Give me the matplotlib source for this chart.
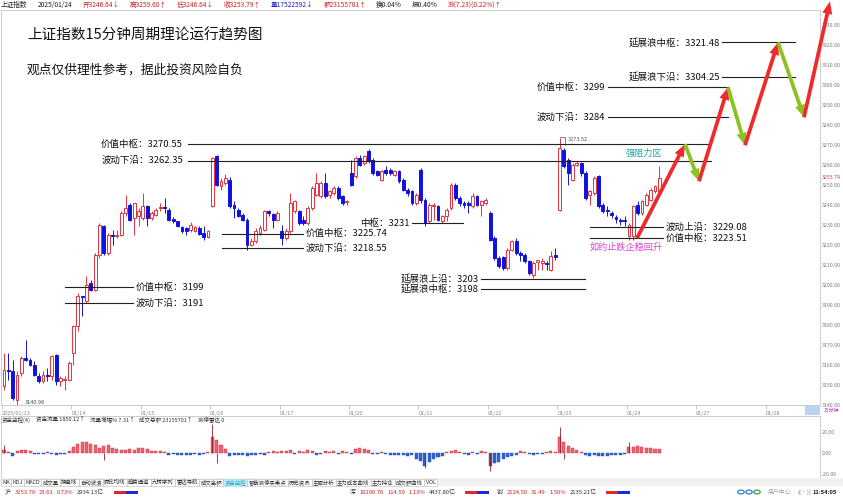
import matplotlib
matplotlib.use('Agg')
import matplotlib.pyplot as plt
from matplotlib.patches import Rectangle, FancyArrowPatch, Circle
import numpy as np

plt.rcParams['font.family'] = ['Noto Sans CJK SC', 'DejaVu Sans']
plt.rcParams['axes.unicode_minus'] = False

W, H = 843, 500

# ---- data -------------------------------------------------------------
day_labels = ['2025/01/13', '01/14', '01/15', '01/16', '01/17', '01/20',
              '01/21', '01/22', '01/23', '01/24', '01/27', '01/28']
bars_per_day = 16

# 15 minute bars, one row per trading day
open_ = [
    3149.4, 3157.7, 3157.0, 3142.7, 3156.0, 3163.5, 3162.7, 3160.2, 3154.7, 3151.9, 3155.2, 3154.4, 3165.2, 3151.9, 3152.5, 3152.7,
    3166.0, 3179.4, 3194.4, 3191.9, 3201.0, 3197.7, 3215.2, 3229.4, 3216.0, 3225.2, 3224.4, 3225.2, 3236.0, 3240.2, 3233.5, 3234.4,
    3233.5, 3239.4, 3233.5, 3235.2, 3238.5, 3239.2, 3237.7, 3233.2, 3231.9, 3228.9, 3228.5, 3227.7, 3226.9, 3228.5, 3226.0, 3223.9,
    3239.4, 3264.4, 3249.4, 3251.0, 3252.7, 3239.9, 3237.7, 3235.2, 3232.7, 3220.2, 3221.9, 3226.0, 3227.7, 3237.2, 3235.5, 3232.7,
    3226.9, 3223.5, 3226.9, 3236.9, 3236.9, 3232.7, 3231.0, 3238.5, 3245.2, 3244.4, 3251.0, 3245.2, 3246.0, 3248.5, 3244.4, 3241.5,
    3256.0, 3254.4, 3263.5, 3261.0, 3266.9, 3262.7, 3256.9, 3252.7, 3257.7, 3257.7, 3255.2, 3256.9, 3252.7, 3247.7, 3246.9, 3241.0,
    3257.7, 3242.7, 3231.9, 3239.4, 3239.4, 3231.9, 3234.4, 3238.5, 3250.2, 3243.5, 3241.0, 3241.0, 3239.4, 3244.4, 3240.2, 3241.0,
    3236.0, 3223.5, 3213.5, 3214.0, 3208.5, 3217.7, 3221.9, 3216.0, 3215.2, 3211.9, 3205.2, 3211.4, 3210.9, 3211.0, 3207.7, 3215.2,
    3237.7, 3267.7, 3262.7, 3252.7, 3260.2, 3261.0, 3256.0, 3245.2, 3246.0, 3254.4, 3240.2, 3237.7, 3236.0, 3234.0, 3232.7, 3232.7,
    3224.4, 3224.4, 3240.2, 3236.0, 3240.2, 3242.7, 3246.9, 3246.64,
]
high = [
    3166.0, 3166.0, 3162.7, 3157.0, 3164.5, 3172.7, 3163.5, 3161.9, 3156.0, 3156.9, 3158.5, 3165.2, 3165.5, 3154.4, 3154.4, 3161.9,
    3180.2, 3196.0, 3194.4, 3204.4, 3202.7, 3216.0, 3231.0, 3230.2, 3226.0, 3227.7, 3227.7, 3237.0, 3245.2, 3241.0, 3241.0, 3238.5,
    3246.0, 3240.2, 3236.9, 3238.5, 3241.0, 3243.5, 3238.5, 3233.9, 3232.2, 3229.4, 3228.9, 3231.5, 3229.5, 3229.4, 3229.7, 3227.7,
    3264.0, 3264.9, 3253.5, 3255.5, 3253.9, 3241.9, 3238.5, 3236.0, 3233.5, 3223.5, 3228.5, 3230.2, 3237.7, 3237.7, 3236.0, 3236.9,
    3230.2, 3228.5, 3246.0, 3242.7, 3237.7, 3234.4, 3239.4, 3249.4, 3256.0, 3252.0, 3256.0, 3247.7, 3249.4, 3249.4, 3245.2, 3242.7,
    3262.7, 3264.4, 3265.2, 3265.2, 3268.0, 3263.5, 3257.7, 3257.7, 3259.4, 3258.5, 3257.7, 3257.7, 3253.5, 3248.5, 3247.7, 3246.0,
    3258.5, 3243.5, 3241.0, 3241.0, 3240.2, 3235.2, 3238.5, 3251.0, 3251.0, 3244.4, 3241.9, 3241.9, 3246.0, 3245.2, 3242.7, 3243.5,
    3237.0, 3224.4, 3214.4, 3214.7, 3218.5, 3222.7, 3223.5, 3216.9, 3216.0, 3212.7, 3211.9, 3212.7, 3213.5, 3211.9, 3216.9, 3218.5,
    3273.52, 3268.5, 3263.5, 3261.0, 3261.9, 3261.4, 3256.9, 3247.7, 3254.4, 3255.2, 3241.0, 3239.4, 3236.9, 3235.2, 3233.5, 3234.4,
    3231.0, 3240.2, 3241.9, 3242.7, 3246.0, 3248.5, 3250.2, 3259.68,
]
low = [
    3147.7, 3152.7, 3142.7, 3140.98, 3154.4, 3162.0, 3159.4, 3154.4, 3151.0, 3151.0, 3151.9, 3152.7, 3150.0, 3149.4, 3147.7, 3151.9,
    3160.2, 3176.9, 3184.4, 3191.0, 3196.9, 3196.9, 3213.5, 3215.2, 3215.2, 3220.2, 3223.5, 3224.4, 3234.4, 3231.9, 3225.2, 3229.4,
    3232.7, 3229.4, 3232.7, 3234.4, 3236.9, 3236.0, 3232.2, 3231.0, 3228.9, 3226.0, 3224.9, 3226.5, 3226.5, 3224.9, 3222.7, 3223.5,
    3239.0, 3249.4, 3247.7, 3250.2, 3238.5, 3233.5, 3233.9, 3231.9, 3217.7, 3219.4, 3221.0, 3225.2, 3226.9, 3234.4, 3228.5, 3232.2,
    3220.2, 3222.7, 3226.0, 3236.0, 3230.2, 3230.2, 3230.2, 3237.7, 3244.4, 3243.5, 3243.5, 3243.5, 3245.2, 3242.7, 3240.2, 3240.2,
    3249.4, 3253.5, 3259.4, 3260.2, 3261.0, 3255.2, 3254.4, 3251.9, 3255.2, 3255.2, 3254.4, 3251.0, 3246.9, 3244.4, 3240.2, 3240.2,
    3241.0, 3229.4, 3231.0, 3232.7, 3231.9, 3231.0, 3231.9, 3237.7, 3242.7, 3239.4, 3238.5, 3236.0, 3238.5, 3239.4, 3234.4, 3240.2,
    3221.9, 3212.7, 3208.5, 3207.7, 3207.7, 3216.9, 3215.2, 3211.9, 3211.0, 3205.2, 3203.5, 3207.7, 3207.7, 3207.7, 3206.9, 3212.7,
    3237.2, 3258.5, 3250.2, 3251.9, 3259.4, 3254.4, 3242.7, 3240.2, 3245.2, 3238.5, 3236.0, 3234.4, 3233.5, 3231.0, 3230.2, 3229.4,
    3222.7, 3222.7, 3235.2, 3235.2, 3239.4, 3241.9, 3246.0, 3246.64,
]
close = [
    3157.7, 3157.0, 3143.5, 3155.2, 3163.5, 3162.7, 3160.2, 3155.2, 3151.9, 3155.2, 3154.5, 3164.4, 3151.9, 3153.5, 3153.0, 3161.0,
    3179.4, 3194.4, 3193.9, 3200.2, 3197.7, 3215.2, 3230.2, 3216.0, 3225.2, 3224.4, 3225.0, 3236.0, 3238.5, 3232.7, 3241.0, 3236.9,
    3239.4, 3233.5, 3236.0, 3237.7, 3239.2, 3238.5, 3232.7, 3231.9, 3229.4, 3227.2, 3226.9, 3229.9, 3229.0, 3225.5, 3224.2, 3227.2,
    3263.5, 3250.2, 3251.9, 3253.5, 3239.4, 3238.5, 3234.4, 3232.7, 3220.2, 3222.2, 3226.9, 3228.5, 3237.2, 3236.0, 3232.7, 3236.0,
    3223.5, 3226.9, 3241.0, 3241.9, 3231.0, 3231.0, 3238.5, 3248.5, 3251.0, 3251.0, 3244.4, 3246.9, 3248.5, 3243.5, 3241.0, 3242.0,
    3250.2, 3263.5, 3260.2, 3264.4, 3261.9, 3256.0, 3255.2, 3256.9, 3256.0, 3256.0, 3256.9, 3251.9, 3247.7, 3246.0, 3241.0, 3245.2,
    3242.7, 3231.0, 3240.2, 3240.2, 3232.7, 3234.4, 3237.7, 3250.2, 3243.5, 3241.0, 3240.2, 3240.2, 3244.4, 3240.2, 3241.9, 3242.7,
    3222.7, 3213.5, 3209.4, 3208.5, 3217.7, 3221.9, 3216.0, 3215.2, 3211.9, 3206.0, 3211.0, 3212.4, 3211.9, 3210.5, 3214.7, 3214.0,
    3268.5, 3259.4, 3256.0, 3260.2, 3261.0, 3256.0, 3243.5, 3246.9, 3253.5, 3239.4, 3236.9, 3236.9, 3235.2, 3233.0, 3232.2, 3231.9,
    3230.2, 3239.4, 3236.0, 3241.9, 3245.2, 3247.7, 3249.4, 3253.79,
]

# 资金流量 bars of the lower panel
flow = [
    3, 1, -3, 2, 3, 3, 2, -1, -1, -1, 1, -1, -2, -1, -1, 2,
    6, 9, 10, 10, 9, 8, 5, 7, 8, 5, 4, 3, 3, 4, 3, 5,
    5, 4, 2, 2, 2, 1, -2, -1, -2, -2, -2, -2, -1, -2, -1, 1,
    15, 12, 8, 4, -3, -2, -2, -2, -3, -2, -2, -1, -2, 1, 2, 1,
    2, 2, 3, -1, 2, 1, 3, 2, -2, -1, 2, 1, 2, -1, 2, 1,
    -1, 4, 5, 4, 3, -1, -1, 1, -1, -2, -2, -2, -2, -3, -2, -6,
    -8, -12, -9, -6, -4, -3, 1, 2, 3, 1, -1, -2, 1, -1, 2, 1,
    -12, -10, -9, -6, -4, -3, -2, 2, 1, -1, -2, -1, -1, 1, 2, 1,
    15, 10, 7, 5, 3, 1, -2, -3, -2, -3, -3, -3, -2, -2, -2, -1,
    6, 6, 7, 6, 5, 5, 4, 4,
]
spike_idx = [0, 23, 48, 49, 97, 112, 128, 129, 144]
spike_val = [8, -7, 28, -10, -14, -17, 25, -6, 10]

# support / resistance levels written on the chart
level_names = ['价值中枢', '波动下沿', '价值中枢', '波动下沿', '延展浪中枢', '延展浪下沿',
               '价值中枢', '波动下沿', '价值中枢', '波动下沿', '中枢', '延展浪上沿',
               '延展浪中枢', '波动上沿', '价值中枢']
level_values = [3270.55, 3262.35, 3299, 3284, 3321.48, 3304.25,
                3199, 3191, 3225.74, 3218.55, 3231, 3203,
                3198, 3229.08, 3223.51]

# projected wave path (price turning points)
wave_prices = [3223.51, 3270.55, 3252, 3299, 3270, 3321.48, 3284, 3342]

last_close = 3253.79

RED = '#E8313C'
BLUE = '#1212E0'


def px2i(px):
    return (px - 4.0) / 4.34


def ftxt(px, py, s, **kw):
    kw.setdefault('fontsize', 4.0)
    kw.setdefault('va', 'center')
    return fig.text(px / W, 1 - py / H, s, **kw)


def frect(px, py, w, h, **kw):
    fig.patches.append(Rectangle((px / W, 1 - (py + h) / H), w / W, h / H,
                                 transform=fig.transFigure, **kw))


def text_row(px, py, items, gap, size=4.0):
    # write texts one after another, each starting where the last one ended
    for s, cc in items:
        t = ftxt(px, py, s, color=cc, fontsize=size)
        px = t.get_window_extent(renderer).x1 + gap
    return px


fig = plt.figure(figsize=(W / 100, H / 100), dpi=100, facecolor='white')
renderer = fig.canvas.get_renderer()
ax = fig.add_axes([1 / W, 1 - 405 / H, 819 / W, 395 / H])
ax2 = fig.add_axes([1 / W, 1 - 478 / H, 819 / W, 62 / H])

o = np.array(open_)
c = np.array(close)
h = np.array(high)
l = np.array(low)
x = np.arange(len(c))
up = c >= o
col = np.where(up, RED, BLUE)

# ---- candles ----------------------------------------------------------
ax.vlines(x, l, h, colors=col, lw=0.7, zorder=2)
ax.bar(x, np.maximum(np.abs(c - o), 0.35), bottom=np.minimum(o, c), width=0.66,
       color=np.where(up, 'white', BLUE), edgecolor=col, linewidth=0.7, zorder=3)

xmin, xmax = px2i(1), px2i(820)
ax.set_xlim(xmin, xmax)
ax.set_ylim(3140.2, 3337.7)

ax.yaxis.tick_right()
yt = np.arange(3140, 3331, 10)
ax.set_yticks(yt)
ax.set_yticklabels([f'{v:.2f}' for v in yt], fontsize=3.8, color='#7a7a7a')
ax.tick_params(axis='y', length=0, pad=1.5)
ax.set_xticks([bars_per_day * d - 0.5 for d in range(len(day_labels))])
ax.set_xticklabels(day_labels, fontsize=4.0, color='#8a8a8a', ha='left')
ax.tick_params(axis='x', length=3, width=0.5, color='#b0b0b0', pad=1.2, direction='out')
for s in ax.spines.values():
    s.set_color('#c4c4c4')
    s.set_linewidth(0.6)

# last price tag on the axis
ax.text(1.002, last_close, f'{last_close:.2f}', transform=ax.get_yaxis_transform(),
        fontsize=3.8, color='#e03030', va='center', ha='left')

# ---- level lines and labels ------------------------------------------
# (line start px, line end px, text px, text alignment)
level_layout = [
    (188, 710, 183, 'right'), (188, 711, 183, 'right'),
    (608, 728, 605, 'right'), (608, 728, 605, 'right'),
    (722, 795, 720, 'right'), (722, 795, 720, 'right'),
    (65, 133, 136, 'left'), (65, 133, 136, 'left'),
    (222, 303, 306, 'left'), (222, 303, 306, 'left'),
    (412, 463, 410, 'right'), (481, 585, 479, 'right'),
    (481, 585, 479, 'right'), (590, 663, 666, 'left'), (590, 663, 666, 'left'),
]
for name, val, (x0, x1, tx, ha) in zip(level_names, level_values, level_layout):
    ax.plot([px2i(x0), px2i(x1)], [val, val], color='#202020', lw=0.8, zorder=4)
    ax.text(px2i(tx), val, f'{name}：{val:g}', fontsize=6.8, color='#101010',
            ha=ha, va='center', zorder=5)

ax.text(px2i(626), 3265.9, '强阻力区', fontsize=6.6, color='#1fa3a8', va='center', ha='left')
ax.text(px2i(590), 3218.9, '如约止跌企稳回升', fontsize=6.6, color='#e040d8', va='center', ha='left')

# extreme price tags
i_lo = int(np.argmin(l))
ax.plot([i_lo, i_lo, i_lo + 1.6], [l[i_lo], l[i_lo] - 0.8, l[i_lo] - 0.8], color='#505050', lw=0.5)
ax.text(i_lo + 1.9, l[i_lo] + 0.3, f'{l[i_lo]:.2f}', fontsize=4.0, color='#505050', va='center')
i_hi = 128
ax.plot([i_hi, i_hi + 1.2, i_hi + 1.2], [h[i_hi] + 0.6, h[i_hi] + 0.6, h[i_hi] - 3.5],
        color='#505050', lw=0.5)
ax.text(i_hi + 1.8, h[i_hi] - 0.6, f'{h[i_hi]:.2f}', fontsize=4.0, color='#505050', va='center')

# projected zigzag
wave_px = [637, 685, 699, 728, 745, 778, 804, 830]
for k in range(len(wave_prices) - 1):
    rising = wave_prices[k + 1] > wave_prices[k]
    arr = FancyArrowPatch((px2i(wave_px[k]), wave_prices[k]),
                          (px2i(wave_px[k + 1]), wave_prices[k + 1]),
                          arrowstyle='simple,head_length=1.0,head_width=0.8,tail_width=0.3',
                          mutation_scale=9, color='#ee2a2a' if rising else '#8cc220',
                          lw=0, shrinkA=0, shrinkB=0, clip_on=False, zorder=6)
    ax.add_patch(arr)

# titles
ax.text(px2i(27), 3325.0, '上证指数15分钟周期理论运行趋势图', fontsize=10.5, color='#111111', va='center')
ax.text(px2i(27), 3307.5, '观点仅供理性参考，据此投资风险自负', fontsize=9.2, color='#111111', va='center')

# ---- lower panel ------------------------------------------------------
fl = np.array(flow)
ax2.bar(x, fl, width=0.7, color=np.where(fl >= 0, '#f06070', '#2f63d0'),
        edgecolor=np.where(fl >= 0, '#c83040', '#1f4fb8'), linewidth=0.3)
ax2.vlines(spike_idx, 0, spike_val, colors='#9a1c28', lw=0.6)
ax2.set_xlim(xmin, xmax)
ax2.set_ylim(-23.8, 35.2)
ax2.yaxis.tick_right()
ax2.set_yticks([20, 0, -20])
ax2.set_yticklabels(['20.00', '0.00', '-20.00'], fontsize=3.8, color='#7a7a7a')
ax2.tick_params(axis='y', length=0, pad=1.5)
ax2.set_xticks([])
for s in ax2.spines.values():
    s.set_color('#c4c4c4')
    s.set_linewidth(0.6)

# ---- chrome: header, strips, status bar --------------------------------
header = [('上证指数', '#202020'), ('2025/01/24', '#202020'), ('开3246.64↓', '#d02020'),
          ('高3259.68↑', '#d02020'), ('低3246.64↓', '#d02020'), ('收3253.79↑', '#d02020'),
          ('量17522592↓', '#2020c0'), ('额23155701↑', '#d02020'), ('换0.04%', '#202020'),
          ('振0.40%', '#202020'), ('涨(7.23)(0.22%)↑', '#d02020')]
text_row(1, 4.5, header, 10, size=4.8)

frect(805, 406, 15, 9, facecolor='#b8d4f0', edgecolor='none')
ftxt(831.5, 410, '15分钟', color='#b030b0', ha='center', fontsize=3.6)
text_row(2, 419.5, [('资金监控(4)', '#303030'), ('资金流量 1850.12↑', '#303030'),
                    ('流量增幅% 7.31↑', '#303030'), ('成交总额 23155701↑', '#303030'),
                    ('涨停雷达 0', '#303030')], 5, size=4.0)

tabs = ['MA', 'KDJ', 'MACD', '成交量', '操盘线', '自动波浪', '顾比均线', '趋势通道', '九转序列',
        '雷达导航', '成交金额', '资金监控', '智能涨停买卖点', '历史资讯', '主题分析', '主力成本曲线',
        '主力持仓', '成交额曲线', 'VOL']
frect(0, 478, 843, 8, facecolor='#f2f2f2', edgecolor='none')
tx = 1.0
for tname in tabs:
    on = tname == '资金监控'
    t = ftxt(tx + 1.2, 482.2, tname, color='#30a0c0' if on else '#303030', fontsize=3.9, zorder=3)
    tw = t.get_window_extent(renderer).width + 2.6
    frect(tx, 478.5, tw, 7, facecolor='#bfeef5' if on else 'white',
          edgecolor='#9ccfd8' if on else '#b8b8b8', linewidth=0.4, zorder=1)
    tx += tw

for sx, blk in ((5, [('沪', '#303030'), ('3253.79', '#d02020'), ('23.63', '#d02020'),
                     ('0.73%', '#d02020'), ('2934.13亿', '#303030')]),
                (350, [('深', '#303030'), ('10290.76', '#d02020'), ('114.59', '#d02020'),
                       ('1.13%', '#d02020'), ('4437.80亿', '#303030')]),
                (497, [('创', '#303030'), ('2124.50', '#d02020'), ('31.49', '#d02020'),
                       ('1.50%', '#d02020'), ('2135.21亿', '#303030')])):
    end = text_row(sx, 492, blk, 3.5, size=4.2)
    frect(end + 6, 490.5, 12, 3, facecolor='#e02828', edgecolor='none')
    frect(end + 18, 490.5, 12, 3, facecolor='#1c2ad8', edgecolor='none')
for cx, cc in ((741, '#2a7fd4'), (749, '#2a7fd4'), (757, '#2aa84a')):
    fig.patches.append(Circle((cx / W, 1 - 492 / H), 3.2 / W, transform=fig.transFigure,
                              facecolor='white', edgecolor=cc, linewidth=0.9))
ftxt(768, 492, '用户中心', color='#a0a0a0', fontsize=4.2)
ftxt(797, 492, '((·))', color='#3a8fd8', fontsize=4.2)
ftxt(813, 492, '11:54:05', color='#202020', fontweight='bold', fontsize=4.2)

fig.savefig('out.png', dpi=100, facecolor='white')
